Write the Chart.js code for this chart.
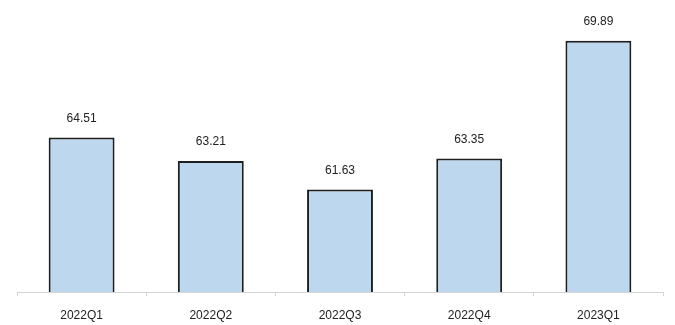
<!DOCTYPE html>
<html>
<head>
<meta charset="utf-8">
<script src="https://cdn.jsdelivr.net/npm/chart.js@4/dist/chart.umd.min.js"></script>
<style>
  html, body { margin: 0; padding: 0; background: #fff; }
  canvas { display: block; }
</style>
</head>
<body>
<canvas id="chart" width="675" height="325"></canvas>
<script>
// 四半期ごとの値
const quarters = ['2022Q1', '2022Q2', '2022Q3', '2022Q4', '2023Q1'];
const values = [64.51, 63.21, 61.63, 63.35, 69.89];

const fontFamily = '"Liberation Sans", Arial, sans-serif';

// 棒の上に値を表示するプラグイン
const valueLabelPlugin = {
    id: 'valueLabel',
    afterDatasetsDraw: (chart) => {
        const ctx = chart.ctx;
        ctx.save();
        ctx.font = '12px ' + fontFamily;
        ctx.fillStyle = '#222';
        ctx.textAlign = 'center';
        ctx.textBaseline = 'middle';
        chart.getDatasetMeta(0).data.forEach((bar, i) => {
            ctx.fillText(values[i].toFixed(2), bar.x, bar.y - 19);
        });
        ctx.restore();
    }
};

const configuration = {
    type: 'bar',
    data: {
        labels: quarters,
        datasets: [{
            data: values,
            backgroundColor: '#bdd7ee',
            borderColor: '#1e1e1e',
            borderWidth: { top: 2, left: 2, right: 2, bottom: 0 },
            borderSkipped: 'bottom',
            categoryPercentage: 1.0,
            barPercentage: 0.51
        }]
    },
    options: {
        responsive: false,
        animation: false,
        layout: {
            padding: { left: 17, right: 12, top: 13, bottom: 0 }
        },
        scales: {
            x: {
                offset: true,
                grid: {
                    display: true,
                    offset: true,
                    drawOnChartArea: false,
                    tickLength: 4,
                    color: '#d4d4d4'
                },
                border: { display: true, color: '#d4d4d4', width: 1 },
                ticks: {
                    color: '#222',
                    padding: 12,
                    font: { family: fontFamily, size: 12 }
                },
                // 軸の高さを固定して横軸の位置を合わせる
                afterFit: (scale) => {
                    scale.height = 33;
                }
            },
            y: {
                display: false,
                min: 55.93,
                max: 71.43
            }
        },
        plugins: {
            legend: { display: false },
            tooltip: { enabled: false }
        }
    },
    plugins: [valueLabelPlugin]
};

new Chart(document.getElementById('chart').getContext('2d'), configuration);
</script>
</body>
</html>
